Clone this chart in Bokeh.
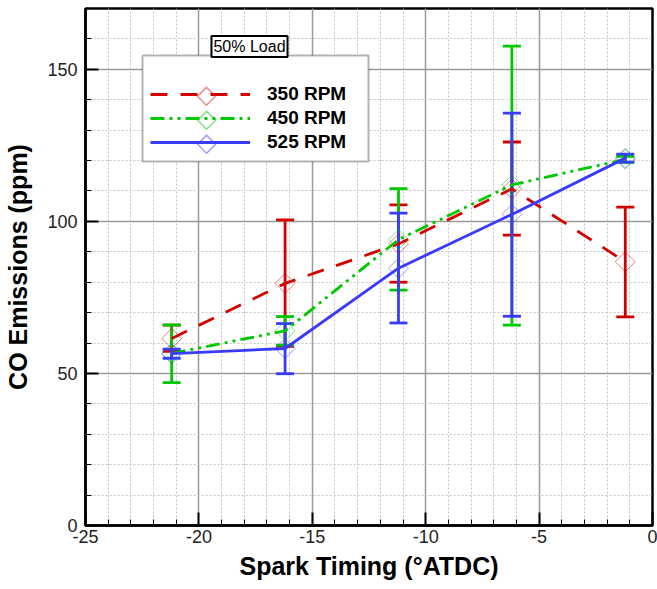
import math
from bokeh.plotting import figure
from bokeh.models import (ColumnDataSource, Whisker, TeeHead, FixedTicker, Legend,
                          LegendItem, Label, Range1d, BoxAnnotation)
from bokeh.embed import file_html
from bokeh.resources import INLINE

# ---- data ----
spark_timing = [-21.2, -16.2, -11.2, -6.2, -1.2]

co_350 = [61.5, 79.6, 92.6, 110.7, 86.7]
lo_350 = [57.3, 58.9, 80.0, 95.5, 68.6]
hi_350 = [65.9, 100.5, 105.4, 126.1, 104.7]

co_450 = [56.6, 64.0, 94.0, 112.0, 120.4]
lo_450 = [47.0, 59.3, 77.4, 65.9, 119.4]
hi_450 = [66.0, 68.7, 110.8, 157.6, 121.4]

co_525 = [56.5, 58.2, 84.6, 102.3, 120.8]
lo_525 = [55.0, 49.9, 66.6, 68.8, 119.5]
hi_525 = [58.0, 66.4, 102.7, 135.6, 122.1]

series_labels = ["350 RPM", "450 RPM", "525 RPM"]
x_major = [-25, -20, -15, -10, -5, 0]
x_minor = list(range(-25, 1))
y_major = [0, 50, 100, 150]
y_minor = list(range(0, 171, 10))

FONT = "Liberation Sans"
X0, X1, Y0, Y1 = -25, 0, 0, 170
FRAME_W, FRAME_H = 657 - 85 - 5, 589 - 8 - 64

p = figure(width=657, height=589, output_backend="svg", toolbar_location=None,
           x_range=Range1d(X0, X1), y_range=Range1d(Y0, Y1),
           min_border_left=85, min_border_right=5, min_border_top=8, min_border_bottom=64)
p.background_fill_color = "white"
p.border_fill_color = "white"
p.outline_line_color = "black"
p.outline_line_width = 2.5

for ax, maj, mn in ((p.xaxis[0], x_major, x_minor), (p.yaxis[0], y_major, y_minor)):
    ax.ticker = FixedTicker(ticks=maj, minor_ticks=mn)
    ax.major_label_overrides = {float(v): str(v) for v in maj}
    ax.axis_line_color = "black"
    ax.axis_line_width = 2.5
    ax.major_tick_in = 13
    ax.major_tick_out = 0
    ax.major_tick_line_width = 2
    ax.minor_tick_in = 6
    ax.minor_tick_out = 0
    ax.minor_tick_line_width = 1
    ax.major_label_text_font = FONT
    ax.major_label_text_font_size = "18px"
    ax.major_label_text_color = "#222222"
    ax.axis_label_text_font = FONT
    ax.axis_label_text_font_size = "25px"
    ax.axis_label_text_font_style = "bold"
    ax.axis_label_text_color = "black"

p.xaxis.axis_label = "Spark Timing (\u00b0ATDC)"
p.yaxis.axis_label = "CO Emissions (ppm)"
p.xaxis.major_label_standoff = 4
p.yaxis.major_label_standoff = 8
p.xaxis.axis_label_standoff = 6
p.yaxis.axis_label_standoff = 12

for g in (p.xgrid, p.ygrid):
    g.grid_line_color = "#9a9a9a"
    g.grid_line_width = 1.5
    g.minor_grid_line_color = "#c4c4c4"
    g.minor_grid_line_width = 1
    g.minor_grid_line_dash = "2 2"


def px_to_x(px):
    # frame-relative pixel -> data x
    return X0 + px / FRAME_W * (X1 - X0)


def px_to_y(py):
    # frame-relative pixel (from bottom) -> data y
    return Y0 + py / FRAME_H * (Y1 - Y0)


# white legend panel with black border (frame-relative pixels)
panel = BoxAnnotation(left=px_to_x(57), right=px_to_x(283),
                      bottom=px_to_y(364), top=px_to_y(470),
                      fill_color="white", fill_alpha=1.0,
                      line_color="black", line_width=2, level="annotation")
p.add_layout(panel)

colors = ["#d40000", "#00c800", "#3a3aff"]
light_colors = ["#ec8a8a", "#80e480", "#9c9cff"]
dashes = ["17 13", "14 5 3 5 3 5", "solid"]
series = [(co_350, lo_350, hi_350), (co_450, lo_450, hi_450), (co_525, lo_525, hi_525)]

items = []
for (yv, lo, hi), col, dash, lab in zip(series, colors, dashes, series_labels):
    src = ColumnDataSource(dict(x=spark_timing, y=yv, lo=lo, hi=hi))
    ln = p.line("x", "y", source=src, line_color=col, line_width=2.8, line_dash=dash)
    w = Whisker(source=src, base="x", lower="lo", upper="hi", dimension="height",
                line_color=col, line_width=2.8,
                upper_head=TeeHead(size=18, line_color=col, line_width=2.8),
                lower_head=TeeHead(size=18, line_color=col, line_width=2.8))
    p.add_layout(w)
    p.scatter("x", "y", source=src, marker="square", angle=math.pi / 4, size=14,
              fill_color=None, line_color=col, line_alpha=0.5, line_width=1)
    items.append(LegendItem(label=lab, renderers=[ln]))

legend = Legend(items=items, location=(57, 364), margin=0, padding=8,
                glyph_width=100, glyph_height=22, label_height=22, spacing=2,
                label_standoff=17, label_width=92,
                label_text_font=FONT, label_text_font_size="19px",
                label_text_font_style="bold", label_text_color="black",
                border_line_alpha=0, background_fill_alpha=0.0,
                title=" ", title_text_font_size="10px", title_standoff=3)
p.add_layout(legend)

# hollow diamonds of the legend samples (text glyph, frame-relative pixels)
legend_diamond_cx = 121
legend_row_cy = [432, 408, 384]
for lcol, cy in zip(light_colors, legend_row_cy):
    p.add_layout(Label(x=legend_diamond_cx, y=cy, x_units="screen", y_units="screen",
                       text="\u25c7", text_align="center", text_baseline="middle",
                       text_font="DejaVu Sans", text_font_size="26px", text_color=lcol,
                       level="overlay"))

load_label = Label(x=164, y=479, x_units="screen", y_units="screen", text="50% Load",
                   text_align="center", text_baseline="middle",
                   text_font=FONT, text_font_size="16px", text_color="black",
                   border_line_color="black", border_line_width=2,
                   background_fill_color="white", padding=2, level="overlay")
p.add_layout(load_label)

open("out.html", "w").write(file_html(p, INLINE))
